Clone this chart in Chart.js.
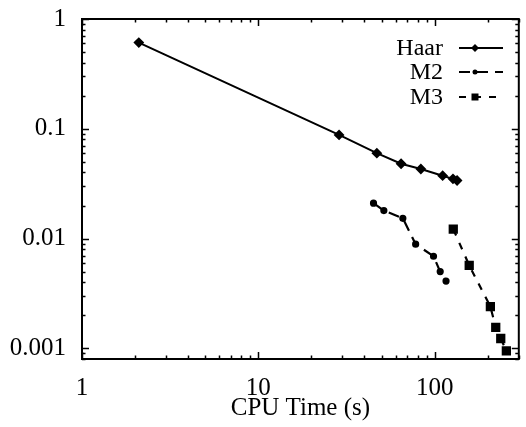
<!DOCTYPE html>
<html>
<head>
<meta charset="utf-8">
<script src="https://cdn.jsdelivr.net/npm/chart.js@4/dist/chart.umd.min.js"></script>
<style>
      body { margin: 0; background: #fff; }
      #error_chart { display: block; }
</style>
</head>
<body>
<canvas id="error_chart" width="526" height="427"></canvas>
<script>
// values (log-log)
const haarTime = [2.1, 28.7, 47, 64.5, 83.5, 111, 127, 134];
const haarError = [0.61, 0.088, 0.060, 0.048, 0.043, 0.0374, 0.035, 0.0338];

const m2Time = [45, 51.5, 66, 78, 98.5, 107.5, 116];
const m2Error = [0.021, 0.018, 0.0153, 0.0089, 0.0069, 0.0050, 0.0041];

const m3Time = [127.5, 157, 207, 222, 237, 255];
const m3Error = [0.0122, 0.0057, 0.0024, 0.00155, 0.00123, 0.00095];

const xTicks = [1, 10, 100];
const yTicks = [0.001, 0.01, 0.1, 1];
const xRange = [1, 300];
const yRange = [0.0008, 1];

const FONT = "'Liberation Serif'";

// wanted frame of the plot area
const AREA = { left: 82, top: 19, right: 521, bottom: 359 };

function toPoints(xs, ys)
{
      const pts = [];
      for (let i = 0; i < xs.length; i++)
      {
            pts.push({ x: xs[i], y: ys[i] });
      }
      return pts;
}

function minorValues(min, max)
{
      const out = [];
      let decade = Math.pow(10, Math.floor(Math.log10(min)));
      while (decade <= max)
      {
            for (let k = 1; k < 10; k++)
            {
                  const v = k * decade;
                  if (v >= min * 0.999 && v <= max * 1.001) out.push({ v: v, major: k === 1 });
            }
            decade *= 10;
      }
      return out;
}

// gnuplot style frame with inward ticks on every side
const framePlugin = {
      id: 'frame',
      afterDatasetsDraw(chart)
      {
            const ctx = chart.ctx;
            const a = chart.chartArea;
            const xs = chart.scales.x;
            const ys = chart.scales.y;
            ctx.save();
            ctx.strokeStyle = '#000';
            ctx.lineWidth = 1.5;

            minorValues(xRange[0], xRange[1]).forEach(function (t)
            {
                  const px = Math.round(xs.getPixelForValue(t.v)) + 0.5;
                  const len = t.major ? 7 : 3.5;
                  ctx.beginPath();
                  ctx.moveTo(px, a.bottom);
                  ctx.lineTo(px, a.bottom - len);
                  ctx.moveTo(px, a.top);
                  ctx.lineTo(px, a.top + len);
                  ctx.stroke();
            });

            minorValues(yRange[0], yRange[1]).forEach(function (t)
            {
                  const py = Math.round(ys.getPixelForValue(t.v)) + 0.5;
                  const len = t.major ? 7 : 3.5;
                  ctx.beginPath();
                  ctx.moveTo(a.left, py);
                  ctx.lineTo(a.left + len, py);
                  ctx.moveTo(a.right, py);
                  ctx.lineTo(a.right - len, py);
                  ctx.stroke();
            });

            ctx.lineWidth = 2;
            ctx.strokeRect(a.left, a.top, a.right - a.left, a.bottom - a.top);
            ctx.restore();
      }
};

function drawMarker(ctx, style, r, x, y)
{
      ctx.beginPath();
      if (style === 'rectRot')
      {
            ctx.moveTo(x, y - r);
            ctx.lineTo(x + r, y);
            ctx.lineTo(x, y + r);
            ctx.lineTo(x - r, y);
            ctx.closePath();
      }
      else if (style === 'rect')
      {
            ctx.rect(x - r * 0.7, y - r * 0.7, r * 1.4, r * 1.4);
      }
      else
      {
            ctx.arc(x, y, r, 0, Math.PI * 2);
      }
      ctx.fill();
}

// legend: label right aligned, line sample on the right
const keyPlugin = {
      id: 'key',
      afterDraw(chart)
      {
            const ctx = chart.ctx;
            const textRight = 443;
            const lineStart = 459;
            const lineEnd = 503;
            const rows = [48, 72, 97];
            ctx.save();
            ctx.font = '24px ' + FONT;
            ctx.textAlign = 'right';
            ctx.textBaseline = 'middle';
            ctx.fillStyle = '#000';
            ctx.strokeStyle = '#000';
            chart.data.datasets.forEach(function (ds, i)
            {
                  const y = rows[i];
                  ctx.fillText(ds.label, textRight, y + 1);
                  ctx.lineWidth = ds.borderWidth;
                  ctx.setLineDash(ds.borderDash || []);
                  ctx.beginPath();
                  ctx.moveTo(lineStart, y);
                  ctx.lineTo(lineEnd, y);
                  ctx.stroke();
                  ctx.setLineDash([]);
                  drawMarker(ctx, ds.pointStyle, ds.pointRadius, (lineStart + lineEnd) / 2 - 6, y);
            });
            ctx.restore();
      }
};

const config = {
      type: 'line',
      data: {
            datasets: [
                  {
                        label: 'Haar',
                        data: toPoints(haarTime, haarError),
                        borderColor: '#000',
                        backgroundColor: '#000',
                        borderWidth: 2,
                        borderDash: [],
                        pointStyle: 'rectRot',
                        pointRadius: 4,
                        tension: 0
                  },
                  {
                        label: 'M2',
                        data: toPoints(m2Time, m2Error),
                        borderColor: '#000',
                        backgroundColor: '#000',
                        borderWidth: 2.2,
                        borderDash: [11, 7],
                        pointStyle: 'circle',
                        pointRadius: 2.5,
                        tension: 0
                  },
                  {
                        label: 'M3',
                        data: toPoints(m3Time, m3Error),
                        borderColor: '#000',
                        backgroundColor: '#000',
                        borderWidth: 2.2,
                        borderDash: [7, 8],
                        pointStyle: 'rect',
                        pointRadius: 5,
                        tension: 0
                  }
            ]
      },
      options: {
            responsive: false,
            animation: false,
            layout: { padding: { top: AREA.top, right: 526 - AREA.right, left: 0, bottom: 0 } },
            scales: {
                  x: {
                        type: 'logarithmic',
                        min: xRange[0],
                        max: xRange[1],
                        afterBuildTicks: function (scale)
                        {
                              scale.ticks = xTicks.map(function (v) { return { value: v }; });
                        },
                        afterFit: function (scale)
                        {
                              scale.height = 427 - AREA.bottom;
                              scale.paddingLeft = 0;
                              scale.paddingRight = 0;
                        },
                        grid: { display: false, drawTicks: false },
                        border: { display: false },
                        ticks: {
                              color: '#000',
                              padding: 14,
                              maxRotation: 0,
                              autoSkip: false,
                              font: { family: FONT, size: 25 },
                              callback: function (v) { return String(v); }
                        },
                        title: {
                              display: true,
                              text: 'CPU Time (s)',
                              color: '#000',
                              font: { family: FONT, size: 25 },
                              padding: { top: 0, bottom: 4 }
                        }
                  },
                  y: {
                        type: 'logarithmic',
                        min: yRange[0],
                        max: yRange[1],
                        afterBuildTicks: function (scale)
                        {
                              scale.ticks = yTicks.map(function (v) { return { value: v }; });
                        },
                        afterFit: function (scale)
                        {
                              scale.width = AREA.left;
                              scale.paddingTop = 0;
                              scale.paddingBottom = 0;
                        },
                        grid: { display: false, drawTicks: false },
                        border: { display: false },
                        ticks: {
                              color: '#000',
                              padding: 16,
                              autoSkip: false,
                              font: { family: FONT, size: 25 },
                              callback: function (v) { return String(v); }
                        }
                  }
            },
            plugins: {
                  legend: { display: false },
                  tooltip: { enabled: false }
            }
      },
      plugins: [framePlugin, keyPlugin]
};

Chart.defaults.font.family = FONT;

new Chart(document.getElementById('error_chart'), config);
</script>
</body>
</html>
